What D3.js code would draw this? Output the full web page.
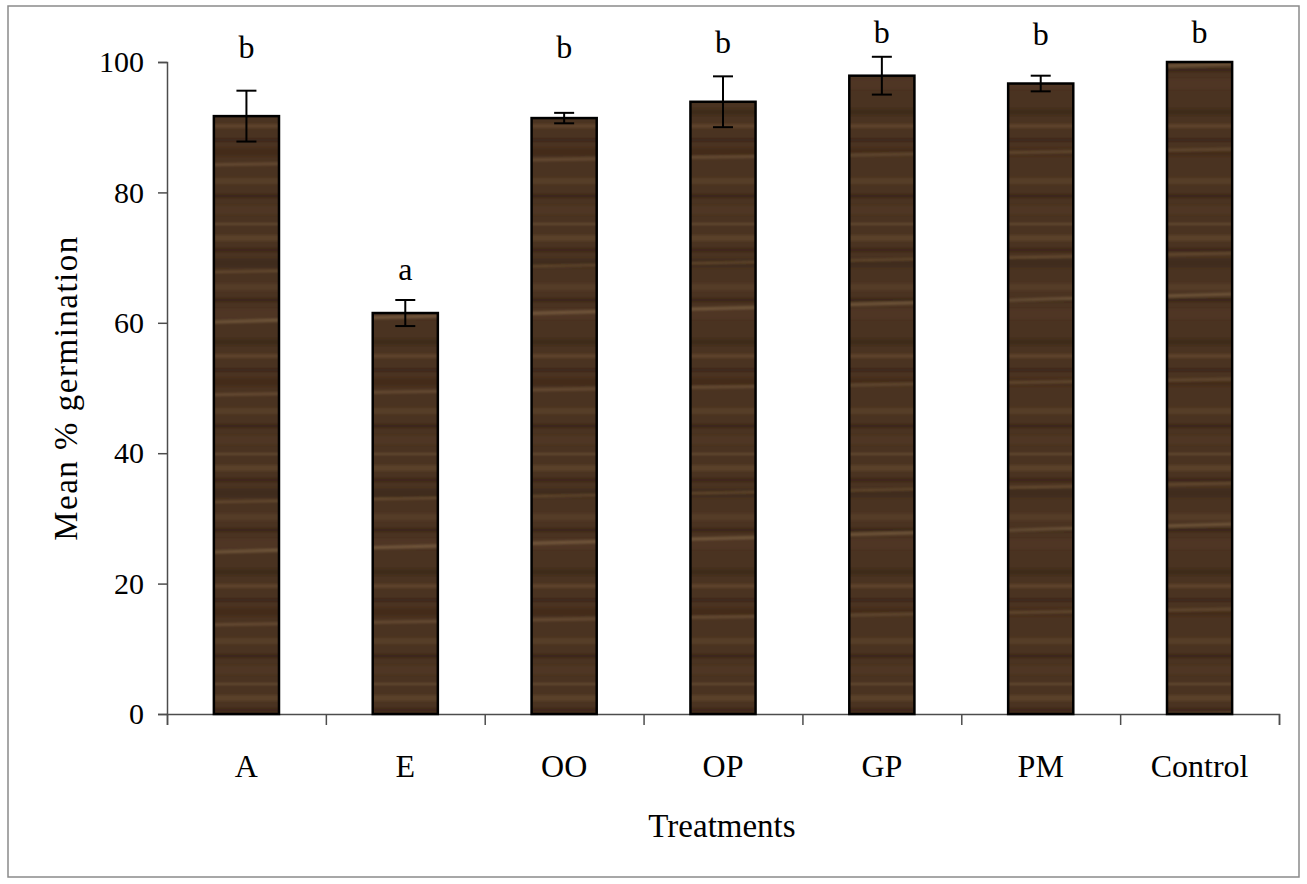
<!DOCTYPE html>
<html>
<head>
<meta charset="utf-8">
<script src="https://cdn.jsdelivr.net/npm/d3@7"></script>
<style>
  body { margin: 0; background: #fff; }
  svg text { font-family: "Liberation Serif", "Times New Roman", serif; fill: #000; }
</style>
</head>
<body>
<svg id="chart" width="1307" height="884"></svg>
<script>
// data
const treatments = ["A", "E", "OO", "OP", "GP", "PM", "Control"];
const meanGerm = [91.7, 61.5, 91.4, 93.9, 97.9, 96.7, 100];
const seGerm = [3.9, 2.0, 0.8, 3.9, 2.9, 1.2, 0];
const letters = ["b", "a", "b", "b", "b", "b", "b"];
const letterLevel = [100.6, 66.6, 100.6, 101.4, 102.9, 102.6, 102.9];
const yTicks = [0, 20, 40, 60, 80, 100];

const data = treatments.map((t, i) => ({
    name: t, mean: meanGerm[i], se: seGerm[i], letter: letters[i], lvl: letterLevel[i]
}));

const svg = d3.select("#chart");
const plotLeft = 167, plotRight = 1279, plotTop = 62, plotBottom = 714;

// outer frame
svg.append("rect")
    .attr("x", 8).attr("y", 6)
    .attr("width", 1291).attr("height", 871)
    .attr("fill", "none")
    .attr("stroke", "#8a8a8a")
    .attr("stroke-width", 1.5);

// wood-ish texture for the bars (decoration only)
const defs = svg.append("defs");
defs.append("filter").attr("id", "soft")
    .append("feGaussianBlur").attr("stdDeviation", "0.8 1.2");
const pat = defs.append("pattern")
    .attr("id", "wood")
    .attr("patternUnits", "userSpaceOnUse")
    .attr("width", 1307).attr("height", 230);
pat.append("rect").attr("width", 1307).attr("height", 230).attr("fill", "#4a3321");
const grain = pat.append("g").attr("filter", "url(#soft)");
// streak: [y, thickness, colour, opacity, drop across width]
const streaks = [
    [8, 6, "#5e432b", 0.8, 0], [20, 3, "#33210f", 0.6, 0], [33, 9, "#3d2817", 0.7, 0],
    [46, 2, "#8c6c48", 0.45, -24], [57, 7, "#5a3f29", 0.7, 0], [70, 3, "#2e1d10", 0.6, 0],
    [84, 10, "#54392a", 0.6, 0], [98, 3, "#a3855c", 0.4, -36], [112, 6, "#372414", 0.6, 0],
    [126, 4, "#664a30", 0.7, 0], [140, 2, "#2a190c", 0.6, 0], [152, 8, "#3f2a18", 0.6, 0],
    [168, 3, "#917251", 0.35, -20], [181, 6, "#5c412b", 0.7, 0], [196, 3, "#2f1e11", 0.6, 0],
    [210, 9, "#513827", 0.6, 0], [224, 2, "#7d5f40", 0.5, 0]
];
streaks.forEach(s => {
    grain.append("path")
        .attr("d", `M0,${s[0]} L1307,${s[0] + s[4]}`)
        .attr("stroke", s[2])
        .attr("stroke-opacity", s[3])
        .attr("stroke-width", s[1])
        .attr("fill", "none");
});

const x = d3.scaleBand()
    .domain(treatments)
    .range([plotLeft, plotRight])
    .paddingInner(0.59)
    .paddingOuter(0.295);

const y = d3.scaleLinear().domain([0, 100]).range([plotBottom, plotTop]);

// y axis
const yAxis = svg.append("g")
    .attr("transform", `translate(${plotLeft},0)`)
    .call(d3.axisLeft(y).tickValues(yTicks).tickSize(9).tickPadding(14).tickFormat(d3.format("d")));
yAxis.select(".domain").attr("stroke", "#4d4d4d").attr("stroke-width", 1.5);
yAxis.selectAll(".tick line").attr("stroke", "#4d4d4d").attr("stroke-width", 1.5);
yAxis.selectAll(".tick text")
    .style("font-family", "Liberation Serif, serif")
    .style("font-size", "30px")
    .attr("fill", "#000");

// x axis: ticks at category boundaries
const xEdge = d3.scaleLinear().domain([0, treatments.length]).range([plotLeft, plotRight]);
const xAxis = svg.append("g")
    .attr("transform", `translate(0,${plotBottom})`)
    .call(d3.axisBottom(xEdge).tickValues(d3.range(treatments.length + 1)).tickSize(11).tickFormat(""));
xAxis.select(".domain").attr("stroke", "#4d4d4d").attr("stroke-width", 1.5);
xAxis.selectAll(".tick line").attr("stroke", "#4d4d4d").attr("stroke-width", 1.5);

svg.append("g").selectAll("text")
    .data(treatments)
    .join("text")
    .attr("x", d => x(d) + x.bandwidth() / 2)
    .attr("y", 777)
    .attr("text-anchor", "middle")
    .style("font-size", "32px")
    .text(d => d);

// bars
svg.append("g").selectAll("rect")
    .data(data)
    .join("rect")
    .attr("x", d => x(d.name))
    .attr("y", d => y(d.mean))
    .attr("width", x.bandwidth())
    .attr("height", d => y(0) - y(d.mean))
    .attr("fill", "url(#wood)")
    .attr("stroke", "#000")
    .attr("stroke-width", 2.5);

// error bars
const eb = svg.append("g").selectAll("g")
    .data(data.filter(d => d.se > 0))
    .join("g")
    .attr("stroke", "#000")
    .attr("stroke-width", 2);
eb.append("line")
    .attr("x1", d => x(d.name) + x.bandwidth() / 2)
    .attr("x2", d => x(d.name) + x.bandwidth() / 2)
    .attr("y1", d => y(d.mean - d.se))
    .attr("y2", d => y(d.mean + d.se));
[-1, 1].forEach(sgn => {
    eb.append("line")
        .attr("x1", d => x(d.name) + x.bandwidth() / 2 - 10)
        .attr("x2", d => x(d.name) + x.bandwidth() / 2 + 10)
        .attr("y1", d => y(d.mean + sgn * d.se))
        .attr("y2", d => y(d.mean + sgn * d.se));
});

// significance letters
svg.append("g").selectAll("text")
    .data(data)
    .join("text")
    .attr("x", d => x(d.name) + x.bandwidth() / 2)
    .attr("y", d => y(d.lvl))
    .attr("text-anchor", "middle")
    .style("font-size", "32px")
    .text(d => d.letter);

// axis titles
svg.append("text")
    .attr("transform", "translate(77,388) rotate(-90)")
    .attr("text-anchor", "middle")
    .style("font-size", "33px")
    .style("letter-spacing", "1.5px")
    .text("Mean % germination");

svg.append("text")
    .attr("x", 722)
    .attr("y", 837)
    .attr("text-anchor", "middle")
    .style("font-size", "33px")
    .text("Treatments");
</script>
</body>
</html>
